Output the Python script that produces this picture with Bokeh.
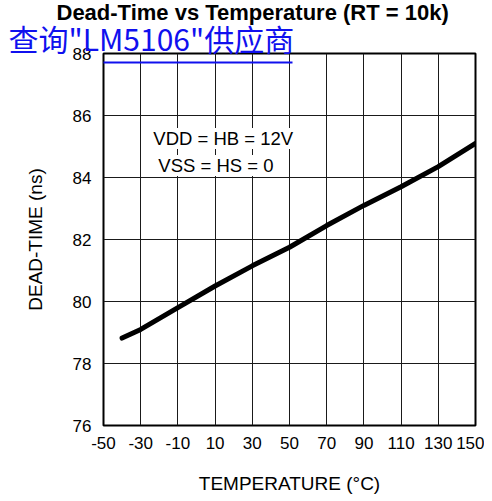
from bokeh.plotting import figure
from bokeh.models import Range1d, FixedTicker, Label, BoxAnnotation, Title
from bokeh.embed import file_html
from bokeh.resources import INLINE

# Data
temperature = [-40, -30, -10, 10, 30, 50, 70, 90, 110, 130, 150]
dead_time = [78.82, 79.1, 79.8, 80.5, 81.15, 81.75, 82.45, 83.1, 83.7, 84.35, 85.1]

x_ticks = [-50, -30, -10, 10, 30, 50, 70, 90, 110, 130, 150]
y_ticks = [76, 78, 80, 82, 84, 86, 88]

title_text = "Dead-Time vs Temperature (RT = 10k)"
link_text = "查询\"LM5106\"供应商"
note_lines = ["VDD = HB = 12V", "VSS = HS = 0"]
x_label = "TEMPERATURE (°C)"
y_label = "DEAD-TIME (ns)"

FONT = "Liberation Sans"
LINK_BLUE = "#1010ee"

p = figure(width=484, height=501, output_backend="svg", toolbar_location=None,
           x_range=Range1d(-50, 150), y_range=Range1d(76, 88),
           min_border_left=103, min_border_right=9, min_border_top=53, min_border_bottom=76)
p.background_fill_color = "white"
p.border_fill_color = "white"
p.outline_line_color = "black"
p.outline_line_width = 2

p.xaxis.ticker = FixedTicker(ticks=x_ticks)
p.yaxis.ticker = FixedTicker(ticks=y_ticks)
p.xaxis.major_label_overrides = {t: str(t) for t in x_ticks}
p.xgrid.ticker = FixedTicker(ticks=x_ticks)
p.ygrid.ticker = FixedTicker(ticks=y_ticks)
for g in (p.xgrid, p.ygrid):
    g.grid_line_color = "#1a1a1a"
    g.grid_line_width = 1
    g.grid_line_alpha = 1

for ax in (p.xaxis, p.yaxis):
    ax.axis_line_color = None
    ax.major_tick_line_color = None
    ax.minor_tick_line_color = None
    ax.major_tick_out = 0
    ax.major_tick_in = 0
    ax.minor_tick_out = 0
    ax.major_label_text_font = FONT
    ax.major_label_text_font_size = "17px"
    ax.major_label_text_color = "black"
    ax.axis_label_text_font = FONT
    ax.axis_label_text_font_size = "19px"
    ax.axis_label_text_font_style = "normal"
    ax.axis_label_text_color = "black"

p.xaxis.axis_label = x_label
p.yaxis.axis_label = y_label
p.xaxis.major_label_standoff = 11
p.yaxis.major_label_standoff = 12
p.xaxis.axis_label_standoff = 21
p.yaxis.axis_label_standoff = 24

p.line(temperature, dead_time, line_color="black", line_width=5, line_cap="round")

for txt, xx, yy in zip(note_lines, [-23.2, -20.5], [85.26, 84.39]):
    p.add_layout(Label(x=xx, y=yy, text=txt, text_font=FONT, text_font_size="18.5px",
                       text_color="black", text_baseline="alphabetic",
                       background_fill_color="white", background_fill_alpha=1.0))

# link text (nearest to frame), then main title above it
p.add_layout(Title(text=link_text, align="left", offset=-95, standoff=-13,
                   text_font="Noto Sans CJK SC", text_font_size="30px",
                   text_font_style="normal", text_color=LINK_BLUE), "above")
p.add_layout(Title(text=title_text, align="left", offset=-47, standoff=-8,
                   text_font=FONT, text_font_size="22px", text_font_style="bold",
                   text_color="black"), "above")

p.add_layout(BoxAnnotation(left=5, right=292, top=61, bottom=63,
                           left_units="canvas", right_units="canvas",
                           bottom_units="canvas", top_units="canvas",
                           fill_color=LINK_BLUE, fill_alpha=1.0, line_color=None))

open("out.html", "w").write(file_html(p, INLINE))
